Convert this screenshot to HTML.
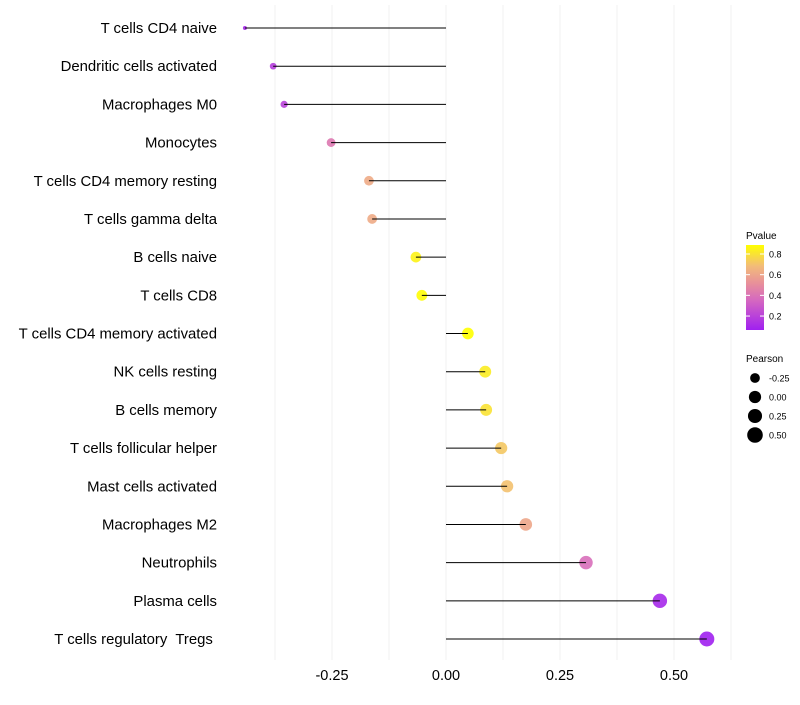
<!DOCTYPE html>
<html><head><meta charset="utf-8"><style>
body{margin:0;background:#fff;}
svg text{font-family:"Liberation Sans",Arial,sans-serif;white-space:pre;}
</style></head><body>
<svg id="chart" width="800" height="700" xmlns="http://www.w3.org/2000/svg">
<defs><linearGradient id="pgrad" x1="0" y1="1" x2="0" y2="0">
<stop offset="0" stop-color="#A020F0"/><stop offset="0.35" stop-color="#D568C0"/><stop offset="0.55" stop-color="#E8909A"/><stop offset="0.75" stop-color="#F2BB7A"/><stop offset="1" stop-color="#FFFF00"/></linearGradient></defs>
<g id="grid"></g>
<g id="marks"></g>
<g id="ylabels"></g>
<g id="xlabels"></g>
<g>
<text x="746" y="239" font-size="10" fill="#000">Pvalue</text>
<rect x="746" y="245" width="18" height="85" fill="url(#pgrad)"/>
<g id="cbticks"></g>
</g>
<g id="sizeleg">
<text x="746" y="362" font-size="10" fill="#000">Pearson</text>
</g>
</svg>
<script>
const categories=["T cells CD4 naive","Dendritic cells activated","Macrophages M0","Monocytes","T cells CD4 memory resting","T cells gamma delta","B cells naive","T cells CD8","T cells CD4 memory activated","NK cells resting","B cells memory","T cells follicular helper","Mast cells activated","Macrophages M2","Neutrophils","Plasma cells","T cells regulatory  Tregs "];
const pearson=[-0.441,-0.379,-0.355,-0.252,-0.169,-0.162,-0.066,-0.053,0.048,0.086,0.088,0.121,0.134,0.175,0.307,0.469,0.572];
const pvalue=[0.1,0.18,0.2,0.42,0.62,0.62,0.85,0.88,0.887,0.83,0.8,0.72,0.7,0.6,0.38,0.1,0.065];
const xTicks=[-0.25,0,0.25,0.5];
const xTickLabels=["-0.25","0.00","0.25","0.50"];
const pTicks=[0.2,0.4,0.6,0.8];
const sizeBreaks=[-0.25,0,0.25,0.5];
const sizeLabels=["-0.25","0.00","0.25","0.50"];

const NS="http://www.w3.org/2000/svg";
function el(t,a,p){const e=document.createElementNS(NS,t);for(const k in a)e.setAttribute(k,a[k]);p.appendChild(e);return e;}
const x=v=>446+v*456;
const y=i=>28+i*(611/16);
const pMin=Math.min(...pvalue),pMax=Math.max(...pvalue);
const cb=v=>330-(v-pMin)/(pMax-pMin)*85;
const stops=[[0,[160,32,240]],[0.35,[213,104,192]],[0.55,[232,144,154]],[0.75,[242,187,122]],[1,[255,255,0]]];
function col(p){let t=Math.max(0,Math.min(1,(p-pMin)/(pMax-pMin)));for(let i=1;i<stops.length;i++){if(t<=stops[i][0]){const a=stops[i-1],b=stops[i];const f=(t-a[0])/(b[0]-a[0]);return "rgb("+a[1].map((c,j)=>Math.round(c+(b[1][j]-c)*f)).join(",")+")";}}return "rgb(255,255,0)";}
const sMin=Math.min(...pearson),sMax=Math.max(...pearson);
const r=v=>2+5.5*Math.sqrt(Math.max(0,Math.min(1,(v-sMin)/(sMax-sMin))));

const grid=document.getElementById('grid');
for(let g=-0.5;g<=0.63;g+=0.125){if(x(g)<223||x(g)>740)continue;
 const l=el('line',{x1:x(g),x2:x(g),y1:5,y2:660,stroke:'#f0f0f0','stroke-width':1},grid);
 
 }
const marks=document.getElementById('marks'),yl=document.getElementById('ylabels'),xl=document.getElementById('xlabels');
categories.forEach((c,i)=>{
 const pt=el('circle',{cx:x(pearson[i]),cy:y(i),r:r(pearson[i]),fill:col(pvalue[i]),'fill-opacity':0.9},marks);
 
 
 const ln=el('line',{x1:x(0),x2:x(pearson[i]),y1:y(i),y2:y(i),stroke:'#000','stroke-width':1},marks);
 
 
 const t=el('text',{x:217,y:y(i)+5,'text-anchor':'end','font-size':14.9,fill:'#000'},yl);t.textContent=c;
 
 
});
xTicks.forEach((v,i)=>{const t=el('text',{x:x(v),y:680,'text-anchor':'middle','font-size':14.5,fill:'#000'},xl);t.textContent=xTickLabels[i];
 
 });
const cbt=document.getElementById('cbticks');
pTicks.forEach(v=>{
 el('line',{x1:746,x2:750,y1:cb(v),y2:cb(v),stroke:'#fff'},cbt);el('line',{x1:760,x2:764,y1:cb(v),y2:cb(v),stroke:'#fff'},cbt);
 const t=el('text',{x:769,y:cb(v)+3.5,'font-size':9,fill:'#000'},cbt);t.textContent=v.toFixed(1);
 
 });
const sl=document.getElementById('sizeleg');
sizeBreaks.forEach((v,i)=>{const cy=378+i*19;
 const c=el('circle',{cx:755,cy:cy,r:r(v)+0.5,fill:'#000'},sl);
 
 
 const t=el('text',{x:769,y:cy+3.5,'font-size':9,fill:'#000'},sl);t.textContent=sizeLabels[i];
 
 });
</script>
</body></html>
